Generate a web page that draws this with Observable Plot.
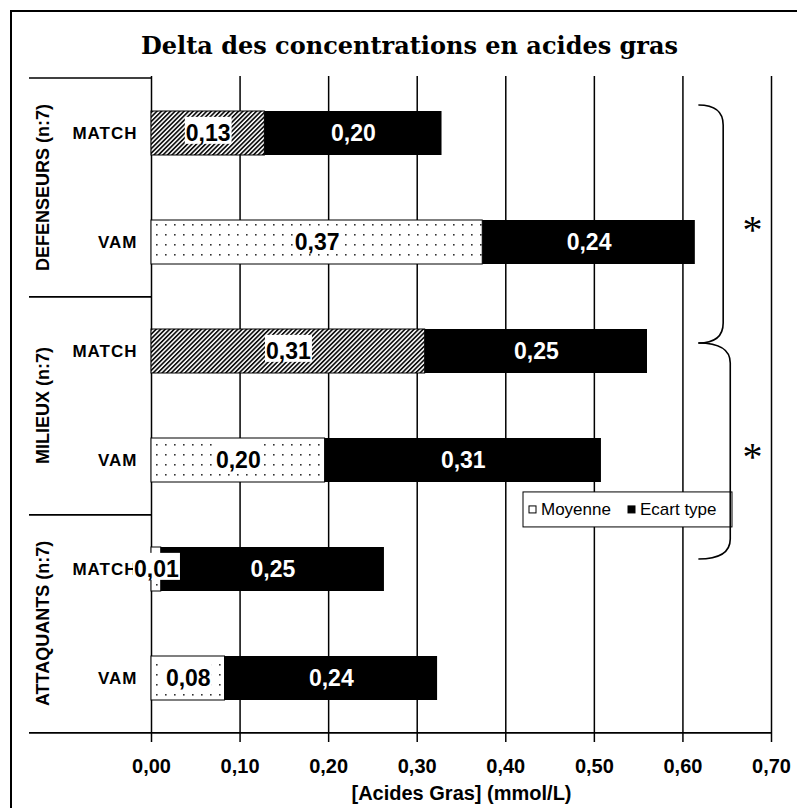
<!DOCTYPE html>
<html><head><meta charset="utf-8">
<script src="https://cdn.jsdelivr.net/npm/d3@7"></script>
<script src="https://cdn.jsdelivr.net/npm/@observablehq/plot@0.6"></script>
<style>
html,body{margin:0;padding:0;background:#fff;}
#chart{position:relative;width:797px;height:808px;overflow:hidden;background:#fff;}
#frame{position:absolute;left:10px;top:10px;width:800px;height:810px;border:2px solid #000;box-sizing:border-box;pointer-events:none;}
g[aria-label="y-axis tick label"] text{letter-spacing:1px;}
</style></head><body>
<div id="chart"><div id="frame"></div></div>
<script>
// ---- data ----
const title = "Delta des concentrations en acides gras";
const xLabel = "[Acides Gras] (mmol/L)";
const groups = ["DEFENSEURS (n:7)", "MILIEUX (n:7)", "ATTAQUANTS (n:7)"];
const conditions = ["MATCH", "VAM"];
const moyenne = [0.128, 0.374, 0.309, 0.196, 0.011, 0.083];
const ecartType = [0.200, 0.240, 0.251, 0.312, 0.252, 0.240];
const xTicks = [0, 0.1, 0.2, 0.3, 0.4, 0.5, 0.6, 0.7];
const seriesNames = ["Moyenne", "Ecart type"];
const braceSpans = [["DEFENSEURS (n:7)|MATCH", "MILIEUX (n:7)|MATCH"], ["MILIEUX (n:7)|MATCH", "ATTAQUANTS (n:7)|MATCH"]];
const braceMarks = ["*", "*"];

// ---- derived table ----
const rowKeys = groups.flatMap(g => conditions.map(c => `${g}|${c}`));
const table = rowKeys.map((key, i) => {
  const [group, cond] = key.split("|");
  return {key, group, cond, m: moyenne[i], e: ecartType[i]};
});
const fmt = v => v.toFixed(2).replace(".", ",");
// style: pattern of the "Moyenne" segment
const patternFor = d => (d.cond === "MATCH" && d.group !== groups[2]) ? "hatch" : "dots";

const decorations = (index, scales, values, dims) => {
  const {marginTop, marginLeft, marginBottom, marginRight, width, height} = dims;
  const X = scales.x, Y = scales.y;
  const step = (height - marginTop - marginBottom) / rowKeys.length;
  const bw = step * 0.4;
  const cy = k => Y(k) + bw / 2;
  const g = d3.create("svg:g");
  // group separators & labels
  const bounds = groups.map(gr => {
    const ks = rowKeys.filter(k => k.startsWith(gr + "|"));
    return {gr, top: Y(ks[0]) - 0.3 * step, bottom: Y(ks[ks.length - 1]) + bw + 0.3 * step};
  });
  const ys = [bounds[0].top, ...bounds.map(b => b.bottom)];
  ys.forEach((yy, i) => g.append("line")
    .attr("x1", marginLeft - 122).attr("x2", i === ys.length - 1 ? width - marginRight : marginLeft)
    .attr("y1", yy).attr("y2", yy).attr("stroke", "#000").attr("stroke-width", 1.6));
  bounds.forEach(b => g.append("text")
    .attr("transform", `translate(${marginLeft - 102},${(b.top + b.bottom) / 2}) rotate(-90)`)
    .attr("text-anchor", "middle").attr("font-size", 18).attr("font-weight", "bold").text(b.gr));
  // legend
  const lx = X(0.42), ly = cy(rowKeys[3]) + bw / 2 + 10;
  const lg = g.append("g").attr("transform", `translate(${lx},${ly})`);
  lg.append("rect").attr("width", 209).attr("height", 35).attr("fill", "#fff").attr("stroke", "#000").attr("stroke-width", 1);
  const itemPos = [6, 105];
  seriesNames.forEach((name, i) => {
    lg.append("rect").attr("x", itemPos[i]).attr("y", 14).attr("width", 7).attr("height", 7)
      .attr("fill", i === 0 ? "#fff" : "#000").attr("stroke", "#000").attr("stroke-width", 1);
    lg.append("text").attr("x", itemPos[i] + 12).attr("y", 23).attr("text-anchor", "start")
      .attr("font-size", 17).text(name);
  });
  // braces
  const x0 = X(0.618), xv = [X(0.646), X(0.654)];
  const yA = cy(braceSpans[0][0]) - 28, yB = cy(braceSpans[0][1]) - 8, yC = cy(braceSpans[1][1]) - 10;
  const spans = [[yA, yB], [yB, yC]];
  spans.forEach(([a, b], i) => {
    const x1 = xv[i], r = 20;
    g.append("path")
      .attr("d", `M${x0},${a} Q${x1},${a} ${x1},${a + r} L${x1},${b - r} Q${x1},${b} ${x0},${b}`)
      .attr("fill", "none").attr("stroke", "#000").attr("stroke-width", 1.6);
    g.append("text").attr("x", X(0.679)).attr("y", (a + b) / 2 + 19)
      .attr("text-anchor", "middle").attr("font-family", "'Liberation Serif', 'Times New Roman', serif")
      .attr("font-size", 40).text(braceMarks[i]);
  });
  return g.node();
};

const svg = Plot.plot({
  width: 797, height: 808,
  marginTop: 76, marginRight: 26, marginBottom: 73, marginLeft: 151,
  style: {fontFamily: "'Liberation Sans', Arial, sans-serif", background: "transparent", color: "#000"},
  x: {domain: [0, 0.7]},
  y: {domain: rowKeys, paddingInner: 0.6, paddingOuter: 0.3},
  color: {domain: ["hatch", "dots", "solid"], range: ["url(#hatch)", "url(#dots)", "#000"]},
  marks: [
    Plot.gridX(xTicks, {stroke: "#000", strokeOpacity: 1, strokeWidth: 1.5}),
    Plot.barX(table, {y: "key", x1: 0, x2: "m", fill: d => patternFor(d), stroke: "#000", strokeWidth: 1}),
    Plot.barX(table, {y: "key", x1: "m", x2: d => d.m + d.e, fill: "#000"}),
    Plot.axisX({ticks: xTicks, tickSize: 7, tickPadding: 16, tickFormat: fmt, fontSize: 20, fontWeight: "bold", label: null, strokeWidth: 1.5}),
    Plot.axisY({tickSize: 0, tickPadding: 14, tickFormat: k => k.split("|")[1], fontSize: 17, fontWeight: "bold", label: null}),
    decorations,
    Plot.text([title], {frameAnchor: "top", dx: -52, dy: -40, fontSize: 24, fontWeight: "bold", fontFamily: "'DejaVu Serif', serif"}),
    Plot.text([xLabel], {frameAnchor: "bottom", dy: 64, fontSize: 20, fontWeight: "bold"}),
    Plot.text(table, {y: "key", x: d => d.m / 2, text: d => fmt(d.m), fill: "#000", fontSize: 23, fontWeight: "bold", className: "mlabel"}),
    Plot.text(table, {y: "key", x: d => d.m + d.e / 2, text: d => fmt(d.e), fill: "#fff", fontSize: 23, fontWeight: "bold"})
  ]
});

// pattern definitions
const defs = d3.select(svg).insert("defs", ":first-child");
const hatch = defs.append("pattern").attr("id", "hatch").attr("patternUnits", "userSpaceOnUse")
  .attr("width", 3.2).attr("height", 10).attr("patternTransform", "rotate(45)");
hatch.append("rect").attr("width", 3.2).attr("height", 10).attr("fill", "#fff");
hatch.append("rect").attr("width", 1.7).attr("height", 10).attr("fill", "#111");
const dots = defs.append("pattern").attr("id", "dots").attr("patternUnits", "userSpaceOnUse")
  .attr("width", 9).attr("height", 10);
dots.append("rect").attr("width", 9).attr("height", 10).attr("fill", "#fff");
dots.append("rect").attr("x", 3).attr("y", 4).attr("width", 1.6).attr("height", 1.6).attr("fill", "#333");

const chart = document.getElementById("chart");
chart.insertBefore(svg, chart.firstChild);
svg.style.position = "absolute"; svg.style.left = "0"; svg.style.top = "0";

// white boxes behind the "Moyenne" labels
d3.select(svg).selectAll("g.mlabel text").each(function () {
  const b = this.getBBox();
  const rect = document.createElementNS("http://www.w3.org/2000/svg", "rect");
  rect.setAttribute("x", b.x - 1); rect.setAttribute("y", b.y - 3);
  rect.setAttribute("width", b.width + 2); rect.setAttribute("height", b.height + 1);
  rect.setAttribute("fill", "#fff");
  const t = this.getAttribute("transform"); if (t) rect.setAttribute("transform", t);
  this.parentNode.insertBefore(rect, this);
});
</script></body></html>
